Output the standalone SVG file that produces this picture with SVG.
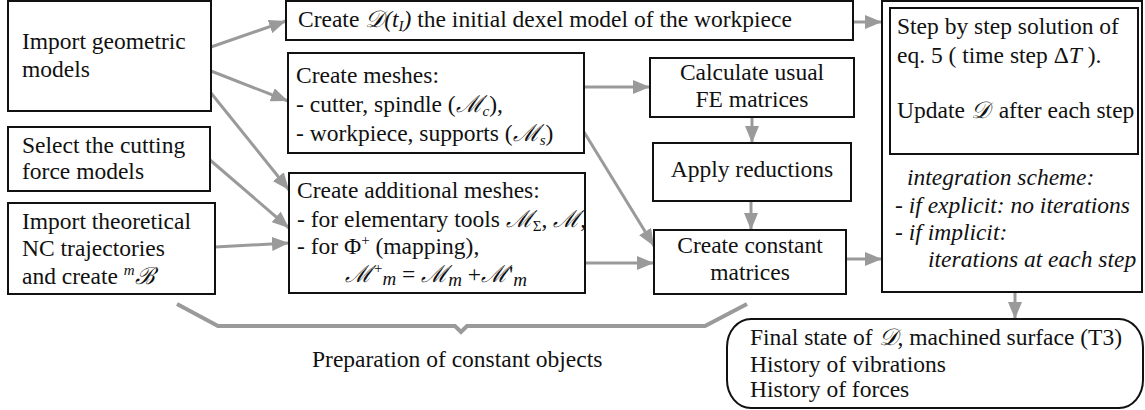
<svg xmlns="http://www.w3.org/2000/svg" width="1145" height="410" viewBox="0 0 1145 410" font-family="Liberation Serif, Times New Roman, serif">
<style>
text{font-family:'Liberation Serif',serif;font-size:23.5px;fill:#111}
.box{fill:#fff;stroke:#111;stroke-width:2}
.c{stroke:#9a9a9a;stroke-width:3;fill:none}
.it{font-style:italic}
.m{font-family:'DejaVu Serif',serif;font-style:italic}
.sub{font-size:15px}
.mid{text-anchor:middle}
</style>
<defs>
<marker id="ah" markerUnits="userSpaceOnUse" markerWidth="18" markerHeight="14" refX="17" refY="7" orient="auto"><path d="M0,0 L17,7 L0,14 z" fill="#9a9a9a"/></marker>
</defs>
<rect width="1145" height="410" fill="#fff"/>

<g id="connectors">
<line class="c" x1="211" y1="47" x2="286" y2="21" marker-end="url(#ah)"/>
<line class="c" x1="211" y1="71" x2="288" y2="101" marker-end="url(#ah)"/>
<line class="c" x1="211" y1="93" x2="289" y2="190" marker-end="url(#ah)"/>
<line class="c" x1="210" y1="160" x2="289" y2="228" marker-end="url(#ah)"/>
<line class="c" x1="215" y1="247" x2="289" y2="243" marker-end="url(#ah)"/>
<line class="c" x1="584" y1="87" x2="650" y2="87" marker-end="url(#ah)"/>
<line class="c" x1="584" y1="132" x2="654" y2="246" marker-end="url(#ah)"/>
<line class="c" x1="585" y1="263" x2="654" y2="263" marker-end="url(#ah)"/>
<line class="c" x1="752" y1="117" x2="752" y2="143" marker-end="url(#ah)"/>
<line class="c" x1="751" y1="201" x2="751" y2="230" marker-end="url(#ah)"/>
<line class="c" x1="853" y1="22" x2="882" y2="22" marker-end="url(#ah)"/>
<line class="c" x1="846" y1="259" x2="882" y2="259" marker-end="url(#ah)"/>
<line class="c" x1="1015" y1="292" x2="1015" y2="319" marker-end="url(#ah)"/>
<path d="M177,304 L218,326 L455,326 L461,332 L467,326 L705,326 L747,304" fill="none" stroke="#9a9a9a" stroke-width="4"/>
</g>

<g id="import-geo">
<rect class="box" x="8" y="1" width="203" height="110"/>
<text x="22" y="49">Import geometric</text>
<text x="22" y="77">models</text>
</g>

<g id="select-force">
<rect class="box" x="8" y="127" width="202" height="64"/>
<text x="22" y="153">Select the cutting</text>
<text x="22" y="179">force models</text>
</g>

<g id="import-nc">
<rect class="box" x="8" y="203" width="207" height="91"/>
<text x="22" y="229">Import theoretical</text>
<text x="22" y="256">NC trajectories</text>
<text x="22" y="284">and create <tspan class="it sub" dy="-9">m</tspan><tspan class="m" dy="9">ℬ</tspan></text>
</g>

<g id="create-dexel">
<rect class="box" x="286" y="1" width="567" height="39"/>
<text x="298" y="27">Create <tspan class="m">𝒟</tspan><tspan class="it">(t</tspan><tspan class="it sub" dy="4">I</tspan><tspan class="it" dy="-4">)</tspan> the initial dexel model of the workpiece</text>
</g>

<g id="create-meshes">
<rect class="box" x="288" y="53" width="296" height="100"/>
<text x="296" y="83">Create meshes:</text>
<text x="296" y="112">- cutter, spindle (<tspan class="m">ℳ</tspan><tspan class="it sub" dy="4">c</tspan><tspan dy="-4">),</tspan></text>
<text x="296" y="141">- workpiece, supports (<tspan class="m">ℳ</tspan><tspan class="it sub" dy="4">s</tspan><tspan dy="-4">)</tspan></text>
</g>

<g id="additional-meshes">
<rect class="box" x="289" y="173" width="296" height="120"/>
<text x="297" y="198">Create additional meshes:</text>
<text x="297" y="227">- for elementary tools <tspan class="m">ℳ</tspan><tspan class="sub" dy="4">Σ</tspan><tspan dy="-4">, </tspan><tspan class="m">ℳ</tspan>,</text>
<text x="297" y="254">- for Φ<tspan class="sub" dy="-9">+</tspan><tspan dy="9"> (mapping),</tspan></text>
<text x="345" y="282"><tspan class="m">ℳ</tspan><tspan class="sub" dx="2" dy="-9">+</tspan><tspan class="it" dy="12" font-size="19">m</tspan><tspan dy="-3"> = </tspan><tspan class="m">ℳ</tspan><tspan class="it" dy="4" font-size="19">m</tspan><tspan dy="-4"> +</tspan><tspan class="m">ℳ</tspan><tspan dx="1">'</tspan><tspan class="it" dy="4" font-size="19">m</tspan></text>
</g>

<g id="calc-fe">
<rect class="box" x="650" y="58" width="204" height="59"/>
<text class="mid" x="752" y="80">Calculate usual</text>
<text class="mid" x="752" y="107">FE matrices</text>
</g>

<g id="apply-red">
<rect class="box" x="653" y="143" width="198" height="58"/>
<text class="mid" x="752" y="177">Apply reductions</text>
</g>

<g id="create-const">
<rect class="box" x="654" y="230" width="192" height="64"/>
<text class="mid" x="750" y="253">Create constant</text>
<text class="mid" x="750" y="280">matrices</text>
</g>

<g id="solution">
<rect class="box" x="882" y="1" width="260" height="291"/>
<rect class="box" x="890" y="8" width="248" height="146"/>
<text x="897" y="34">Step by step solution of</text>
<text x="897" y="63">eq. 5 ( time step Δ<tspan class="it">T</tspan> ).</text>
<text x="897" y="118">Update <tspan class="m">𝒟</tspan><tspan dx="3"> after each step</tspan></text>
<text class="it" x="907" y="185">integration scheme:</text>
<text class="it" x="895" y="213">- if explicit: no iterations</text>
<text class="it" x="895" y="240">- if implicit:</text>
<text class="it" x="928" y="267">iterations at each step</text>
</g>

<g id="final-state">
<rect class="box" x="727" y="319" width="416" height="89" rx="24" ry="28"/>
<text x="750" y="345">Final state of <tspan class="m">𝒟</tspan>, machined surface (T3)</text>
<text x="750" y="372">History of vibrations</text>
<text x="750" y="397">History of forces</text>
</g>

<g id="bracket-label">
<text x="312" y="367">Preparation of constant objects</text>
</g>
</svg>
